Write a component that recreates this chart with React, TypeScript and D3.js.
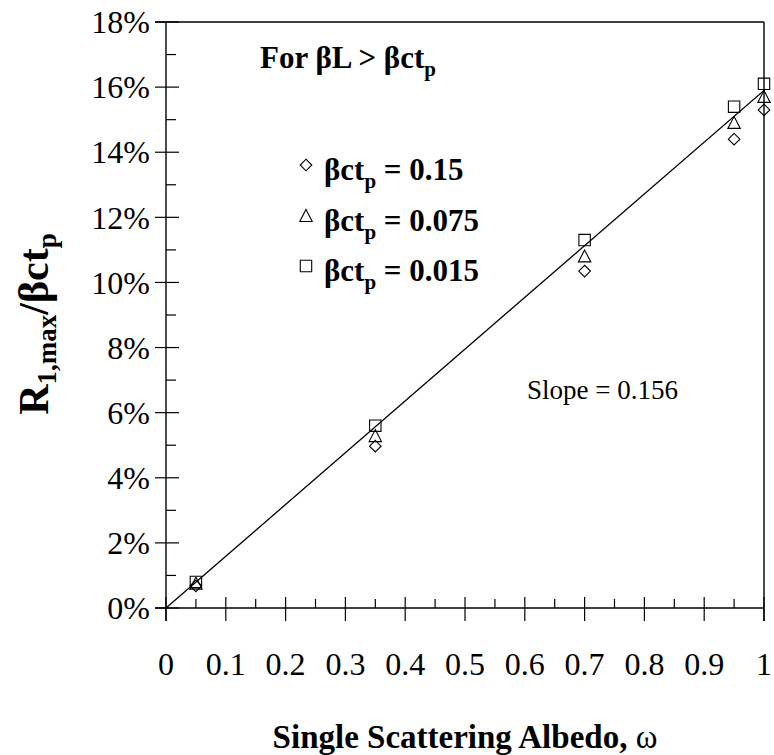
import React from 'react';
import * as d3 from 'd3';

// values (percent of beta*c*t_p)
const albedo = [0.05, 0.35, 0.7, 0.95, 1.0];
const ct015 = [0.68, 4.97, 10.35, 14.4, 15.3];
const ct0075 = [0.75, 5.28, 10.8, 14.9, 15.7];
const ct0015 = [0.8, 5.6, 11.3, 15.4, 16.1];
const fitAlbedo = [0, 1];
const fitRatio = [0, 15.9];

const yTicks = [0, 2, 4, 6, 8, 10, 12, 14, 16, 18];
const yMinor = [1, 3, 5, 7, 9, 11, 13, 15, 17];
const xTicks = [0, 0.1, 0.2, 0.3, 0.4, 0.5, 0.6, 0.7, 0.8, 0.9, 1];
const xTickLabels = ['0', '0.1', '0.2', '0.3', '0.4', '0.5', '0.6', '0.7', '0.8', '0.9', '1'];
const xMinor = [0.05, 0.15, 0.25, 0.35, 0.45, 0.55, 0.65, 0.75, 0.85, 0.95];

const seriesNames = ['0.15', '0.075', '0.015'];
const seriesShapes = ['diamond', 'triangle', 'square'];
const seriesValues = [ct015, ct0075, ct0015];

const W = 774;
const H = 755;
const FONT = '"Liberation Serif", "Times New Roman", serif';

const marker = (shape: string, cx: number, cy: number) => {
  if (shape === 'diamond') {
    const r = 5.8;
    return `M${cx},${cy - r}L${cx + r},${cy}L${cx},${cy + r}L${cx - r},${cy}Z`;
  }
  if (shape === 'triangle') {
    return `M${cx},${cy - 6.5}L${cx + 6.2},${cy + 5.5}L${cx - 6.2},${cy + 5.5}Z`;
  }
  const h = 5.7;
  return `M${cx - h},${cy - h}H${cx + h}V${cy + h}H${cx - h}Z`;
};

export default function App() {
  const x = d3.scaleLinear().domain([0, 1]).range([166, 764]);
  const y = d3.scaleLinear().domain([0, 18]).range([608, 22]);

  const line = d3.line<number>()
    .x((d, i) => x(fitAlbedo[i]))
    .y((d) => y(d));

  const legendY = [165, 216, 266];

  return (
    <svg width={W} height={H} style={{ position: 'absolute', left: 0, top: 0, background: '#fff' }}
      fontFamily={FONT}>
      <rect width={W} height={H} fill="#fff" />

      {/* frame */}
      <g stroke="#000" strokeWidth={1.4} fill="none">
        <line x1={x(0)} x2={x(0)} y1={y(18)} y2={y(0) + 13} />
        <line x1={x(0) - 11} x2={x(1)} y1={y(0)} y2={y(0)} />
        <line x1={x(0) - 11} x2={x(1)} y1={y(18)} y2={y(18)} />
        <line x1={x(1)} x2={x(1)} y1={y(18)} y2={y(0) + 13} />
      </g>

      {/* ticks */}
      <g stroke="#000" strokeWidth={1.2}>
        {yTicks.map((t) => (
          <line key={'ym' + t} x1={x(0) - 11} x2={x(0) + 13} y1={y(t)} y2={y(t)} />
        ))}
        {yMinor.map((t) => (
          <line key={'yn' + t} x1={x(0)} x2={x(0) + 10} y1={y(t)} y2={y(t)} />
        ))}
        {xTicks.map((t) => (
          <line key={'xm' + t} x1={x(t)} x2={x(t)} y1={y(0) - 11} y2={y(0) + 13} />
        ))}
        {xMinor.map((t) => (
          <line key={'xn' + t} x1={x(t)} x2={x(t)} y1={y(0) - 9} y2={y(0)} />
        ))}
      </g>

      {/* tick labels */}
      <g fontSize={32} fill="#000">
        {yTicks.map((t) => (
          <text key={'yl' + t} x={150} y={y(t)} dy="0.35em" textAnchor="end">{t + '%'}</text>
        ))}
        {xTicks.map((t, i) => (
          <text key={'xl' + t} x={x(t)} y={675} textAnchor="middle">{xTickLabels[i]}</text>
        ))}
      </g>

      {/* fitted line */}
      <path d={line(fitRatio) || ''} fill="none" stroke="#000" strokeWidth={1.3} />

      {/* data markers */}
      <g fill="none" stroke="#000" strokeWidth={1.1}>
        {seriesValues.map((vals, s) =>
          vals.map((v, i) => (
            <path key={s + '-' + i} d={marker(seriesShapes[s], x(albedo[i]), y(v))} />
          ))
        )}
      </g>

      {/* legend */}
      <g fontWeight="bold" fontSize={31} fill="#000">
        {seriesNames.map((n, s) => (
          <g key={n}>
            <path d={marker(seriesShapes[s], 306, legendY[s])} fill="none" stroke="#000" strokeWidth={1.1} />
            <text x={324} y={legendY[s] + 15}>
              βct<tspan fontSize={21} dy={8}>p</tspan><tspan dy={-8}>{' = ' + n}</tspan>
            </text>
          </g>
        ))}
        <text x={260} y={68}>
          For βL &gt; βct<tspan fontSize={21} dy={8}>p</tspan>
        </text>
      </g>

      <text x={527} y={399} fontSize={27} fill="#000">Slope = 0.156</text>

      {/* axis titles */}
      <text x={x(0.5)} y={748} textAnchor="middle" fontWeight="bold" fontSize={33} fill="#000">
        Single Scattering Albedo, <tspan fontWeight="normal">ω</tspan>
      </text>
      <text transform="translate(48,324) rotate(-90)" textAnchor="middle" fontWeight="bold" fontSize={42} fill="#000">
        R<tspan fontSize={27} dy={8}>1,max</tspan><tspan dy={-8}>/βct</tspan><tspan fontSize={27} dy={8}>p</tspan>
      </text>
    </svg>
  );
}
